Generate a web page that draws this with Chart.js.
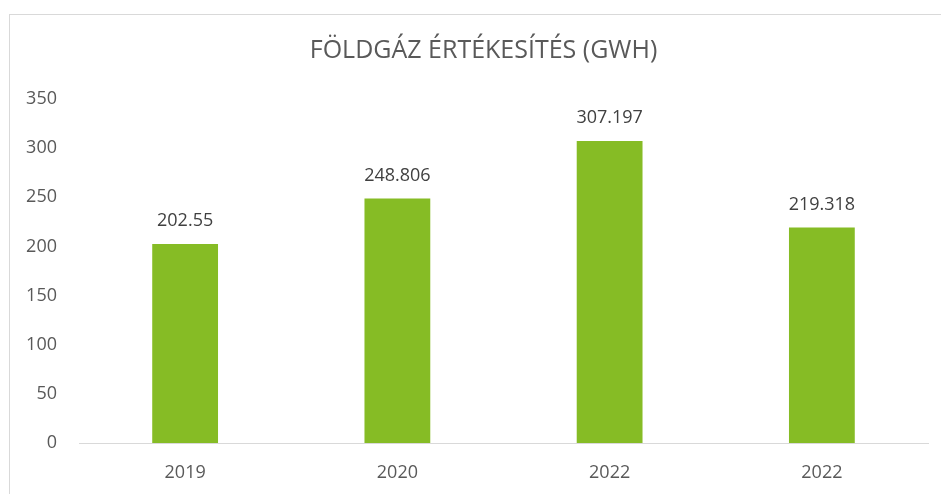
<!DOCTYPE html>
<html>
<head>
<meta charset="utf-8">
<script src="https://cdn.jsdelivr.net/npm/chart.js@4/dist/chart.umd.min.js"></script>
<style>
html,body{margin:0;padding:0;background:#fff;overflow:hidden;}
#frame{position:absolute;left:9px;top:14px;width:2000px;height:2000px;border:1px solid #d9d9d9;box-sizing:border-box;}
#wrap{position:absolute;left:0;top:0;width:941px;height:494px;}
</style>
</head>
<body>
<div id="frame"></div>
<div id="wrap"><canvas id="c" width="941" height="494"></canvas></div>
<script>
const titleText = 'FÖLDGÁZ ÉRTÉKESÍTÉS (GWH)';
const categories = ['2019', '2020', '2022', '2022'];
const values = [202.55, 248.806, 307.197, 219.318];
const valueLabels = ['202.55', '248.806', '307.197', '219.318'];
const yTicks = [0, 50, 100, 150, 200, 250, 300, 350];

const FONT = "'Open Sans', 'Noto Sans', sans-serif";

const labelPlugin = {
  id: 'valueLabels',
  afterDatasetsDraw(chart) {
    const ctx = chart.ctx;
    const meta = chart.getDatasetMeta(0);
    ctx.save();
    ctx.font = "18px " + FONT;
    ctx.fillStyle = '#404040';
    ctx.textAlign = 'center';
    ctx.textBaseline = 'middle';
    meta.data.forEach((bar, i) => {
      ctx.fillText(valueLabels[i], bar.x, bar.y - 23);
    });
    ctx.restore();
  }
};

const titlePlugin = {
  id: 'offsetTitle',
  afterDraw(chart) {
    const ctx = chart.ctx;
    ctx.save();
    ctx.font = "25px " + FONT;
    ctx.fillStyle = '#595959';
    ctx.textAlign = 'center';
    ctx.textBaseline = 'middle';
    ctx.fillText(titleText, 483.5, 51);
    ctx.restore();
  }
};

new Chart(document.getElementById('c'), {
  type: 'bar',
  data: {
    labels: categories,
    datasets: [{
      data: values,
      backgroundColor: '#86bc25',
      borderWidth: 0,
      barPercentage: 0.31,
      categoryPercentage: 1
    }]
  },
  options: {
    responsive: false,
    animation: false,
    devicePixelRatio: 1,
    layout: { padding: { left: 0, right: 13, top: 99, bottom: 0 } },
    plugins: {
      legend: { display: false },
      tooltip: { enabled: false },
      title: { display: false }
    },
    scales: {
      x: {
        grid: { display: false, drawTicks: false },
        border: { display: true, color: '#d9d9d9', width: 1 },
        ticks: { color: '#595959', font: { family: FONT, size: 18 }, padding: 19 },
        afterFit(scale) { scale.height = 51; }
      },
      y: {
        min: 0, max: 350,
        afterBuildTicks(scale) { scale.ticks = yTicks.map(v => ({ value: v })); },
        grid: { display: false, drawTicks: false },
        border: { display: false },
        ticks: { color: '#595959', font: { family: FONT, size: 18 }, padding: 22 },
        afterFit(scale) { scale.width = 79; }
      }
    }
  },
  plugins: [labelPlugin, titlePlugin]
});
</script>
</body>
</html>
